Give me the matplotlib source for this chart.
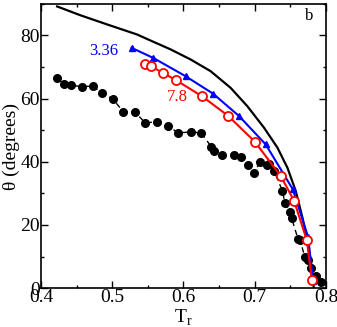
import matplotlib
matplotlib.use('Agg')
import matplotlib.pyplot as plt
from matplotlib.ticker import MultipleLocator

plt.rcParams['font.family'] = ['Liberation Serif', 'DejaVu Serif']
plt.rcParams['mathtext.fontset'] = 'custom'
plt.rcParams['mathtext.rm'] = 'Liberation Serif'

# theory curve (solid black)
curve_t = [0.4225, 0.4553, 0.4928, 0.535, 0.5537, 0.5819, 0.61, 0.6381, 0.6663,
           0.6897, 0.7131, 0.7319, 0.746, 0.7576, 0.7671, 0.775, 0.7801, 0.7830]
curve_th = [89.2, 86.4, 83.5, 80.3, 78.4, 75.6, 72.4, 68.7, 63.4,
            57.6, 50.8, 44.5, 38.1, 30.8, 22.3, 13.9, 6.5, 0.0]

# series 3.36 (blue triangles)
blue_t = [0.527, 0.5575, 0.603, 0.6414, 0.678, 0.7155, 0.7535, 0.775, 0.782]
blue_th = [76.1, 72.9, 67.1, 61.6, 54.5, 45.5, 31.3, 16.2, 2.3]

# series 7.8 (red open circles)
red_t = [0.5453, 0.5538, 0.5716, 0.5899, 0.6264, 0.663, 0.700, 0.7366, 0.7554, 0.7732, 0.7802]
red_th = [71.0, 70.3, 68.1, 65.8, 60.7, 54.5, 46.4, 35.5, 27.6, 15.2, 2.7]

# simulation (black dots, dashed)
sim_t = [0.4225, 0.4319, 0.4422, 0.4577, 0.4727, 0.4849, 0.5003, 0.5153, 0.5313, 0.5463,
         0.5622, 0.5782, 0.5922, 0.6100, 0.625, 0.6391, 0.6428, 0.6536, 0.6709, 0.6813,
         0.6906, 0.699, 0.7075, 0.7169, 0.7207, 0.7272, 0.739, 0.7422, 0.7497, 0.752,
         0.7609, 0.7638, 0.7703, 0.775, 0.7788, 0.7858, 0.7938]
sim_th = [66.6, 64.5, 64.2, 63.8, 64.0, 61.8, 60.0, 55.9, 55.9, 52.3,
          52.7, 51.4, 49.2, 49.4, 49.2, 44.7, 43.4, 42.2, 42.1, 41.5,
          38.9, 36.4, 40.0, 38.9, 39.2, 37.1, 30.8, 27.1, 24.2, 22.1,
          15.5, 15.2, 9.9, 8.9, 6.5, 3.9, 1.8]

fig = plt.figure(figsize=(3.37, 3.27), dpi=100)
ax = fig.add_axes([0.122, 0.119, 0.845, 0.869])

ax.plot(sim_t, sim_th, color='black', linestyle=(0, (4, 3)), linewidth=1.0,
        marker='o', markersize=5.5)
ax.plot(curve_t, curve_th, color='black', linewidth=1.6)
ax.plot(blue_t, blue_th, color='blue', linewidth=1.5, marker='^', markersize=5)
ax.plot(red_t, red_th, color='red', linewidth=1.5, marker='o', markersize=6.5,
        markerfacecolor='white', markeredgecolor='red', markeredgewidth=1.3)

ax.text(0.4886, 75.0, '3.36', color='blue', fontsize=12, ha='center', va='center')
ax.text(0.591, 60.5, '7.8', color='red', fontsize=12, ha='center', va='center')
ax.text(0.7764, 86.1, 'b', color='black', fontsize=12, ha='center', va='center')

ax.set_xlim(0.4, 0.8)
ax.set_ylim(0, 90)
ax.xaxis.set_major_locator(MultipleLocator(0.1))
ax.xaxis.set_minor_locator(MultipleLocator(0.05))
ax.yaxis.set_major_locator(MultipleLocator(20))
ax.yaxis.set_minor_locator(MultipleLocator(10))
ax.set_xticks([0.4, 0.5, 0.6, 0.7, 0.8])
ax.set_xticklabels(['0.4', '0.5', '0.6', '0.7', '0.8'])
ax.tick_params(which='both', direction='in', top=True, right=True, labelsize=14, pad=1)
ax.tick_params(which='major', length=5, width=1)
ax.tick_params(which='minor', length=2.5, width=1)
for s in ax.spines.values():
    s.set_linewidth(1.2)

ax.set_xlabel(r'T$_\mathrm{r}$', fontsize=14, labelpad=1)
ax.set_ylabel('θ (degrees)', fontsize=14, labelpad=0)

fig.savefig('out.png', dpi=100)
